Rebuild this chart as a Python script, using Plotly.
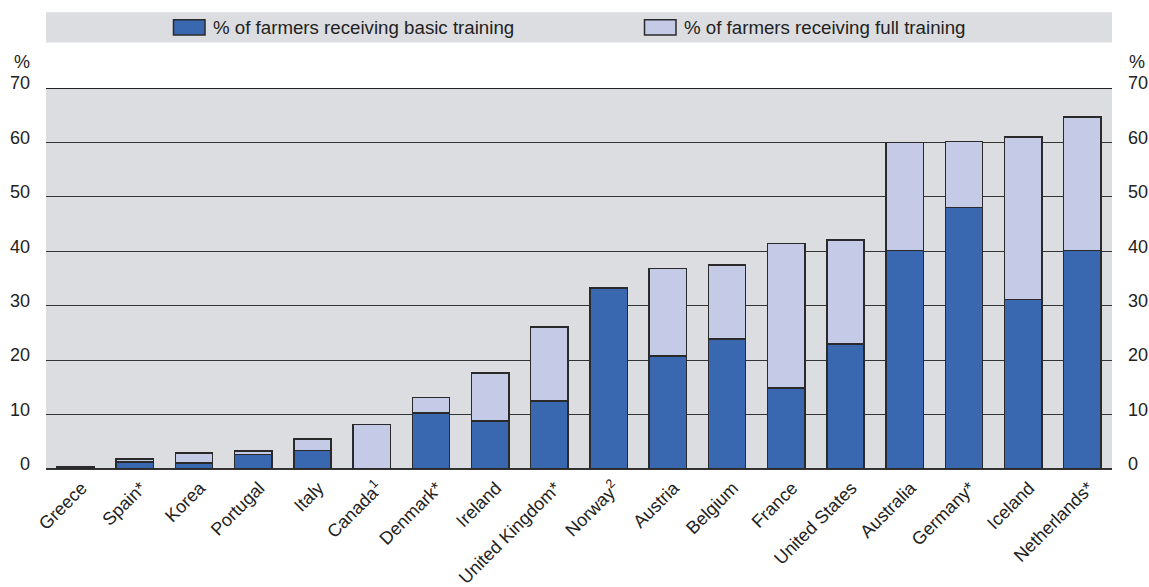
import plotly.graph_objects as go

countries = ["Greece", "Spain*", "Korea", "Portugal", "Italy", "Canada<sup>1</sup>", "Denmark*",
             "Ireland", "United Kingdom*", "Norway<sup>2</sup>", "Austria", "Belgium", "France",
             "United States", "Australia", "Germany*", "Iceland", "Netherlands*"]
basic = [0.4, 1.3, 1.1, 2.7, 3.4, 0.0, 10.3, 8.8, 12.5, 33.3, 20.8, 23.9, 14.9, 23.0, 40.1, 48.0, 31.1, 40.1]
full_total = [0.4, 1.8, 2.9, 3.35, 5.5, 8.2, 13.1, 17.6, 26.1, 33.3, 36.8, 37.5, 41.4, 42.1, 60.0, 60.2, 61.0, 64.7]
full = [round(t - b, 2) for t, b in zip(full_total, basic)]
yticks = [0, 10, 20, 30, 40, 50, 60, 70]
series_names = ["% of farmers receiving basic training", "% of farmers receiving full training"]

BLUE = "#3a68b0"
LIGHT = "#c5cae6"
GRAY = "#dcdde0"
EDGE = "#2a2a2a"
FONT = "Liberation Sans, Arial, sans-serif"

# body margin is removed in post_script, so the figure sits at (0, 0)
W, H = 1149, 587
PLOT_L, PLOT_R, PLOT_T, PLOT_B = 46, 1112, 88, 469   # target plot box in page pixels
ML, MR, MT, MB = PLOT_L, W - PLOT_R, PLOT_T, H - PLOT_B
PW, PH = PLOT_R - PLOT_L, PLOT_B - PLOT_T


def px_x(p):
    return (p - PLOT_L) / PW


def px_y(p):
    return (PLOT_B - p) / PH


fig = go.Figure()
fig.add_trace(go.Bar(x=countries, y=basic, name=series_names[0],
                     marker=dict(color=BLUE, line=dict(color=EDGE, width=1.5))))
fig.add_trace(go.Bar(x=countries, y=full, name=series_names[1],
                     marker=dict(color=LIGHT, line=dict(color=EDGE, width=1.5))))
fig.add_trace(go.Scatter(x=[countries[0]], y=[0], yaxis="y2", mode="markers",
                         marker=dict(opacity=0), showlegend=False, hoverinfo="skip"))

shapes = [
    dict(type="rect", xref="paper", yref="paper", x0=0, x1=1, y0=px_y(42.5), y1=px_y(12.3),
         fillcolor=GRAY, line=dict(width=0), layer="below"),
    dict(type="line", xref="paper", yref="y", x0=0, x1=1, y0=70, y1=70,
         line=dict(color="#222", width=2)),
]
annotations = [
    dict(text="%", xref="paper", yref="paper", x=px_x(11.5), y=px_y(61.5), showarrow=False,
         font=dict(size=18), xanchor="left", yanchor="middle"),
    dict(text="%", xref="paper", yref="paper", x=px_x(1127), y=px_y(61.5), showarrow=False,
         font=dict(size=18), xanchor="left", yanchor="middle"),
]
legend_pos = [(173.5, 205, 210.5), (644.5, 676, 681.5)]
for (sx0, sx1, tx), col, name in zip(legend_pos, [BLUE, LIGHT], series_names):
    shapes.append(dict(type="rect", xref="paper", yref="paper", x0=px_x(sx0), x1=px_x(sx1),
                       y0=px_y(35), y1=px_y(19.7), fillcolor=col,
                       line=dict(color=EDGE, width=1.5)))
    annotations.append(dict(text=name, xref="paper", yref="paper", x=px_x(tx), y=px_y(27.5),
                            showarrow=False, xanchor="left", yanchor="middle",
                            font=dict(size=18.7, color="#222")))

fig.update_layout(
    barmode="stack",
    bargap=0.37,
    width=W, height=H,
    margin=dict(l=ML, r=MR, t=MT, b=MB, autoexpand=False),
    paper_bgcolor="white",
    plot_bgcolor=GRAY,
    showlegend=False,
    font=dict(family=FONT, size=18, color="#222"),
    xaxis=dict(tickangle=-45, showgrid=False, ticks="", tickfont=dict(size=18),
               range=[-0.5, 17.5], showline=False, automargin=False,
               ticklabelstandoff=4, ticklabelshift=6),
    yaxis=dict(range=[0, 70], tickvals=yticks, showgrid=True, gridcolor="#333", gridwidth=1,
               zeroline=True, zerolinecolor="#333", zerolinewidth=2, ticks="",
               ticklabelstandoff=15, ticklabelshift=-5, automargin=False,
               tickfont=dict(size=18)),
    yaxis2=dict(range=[0, 70], tickvals=yticks, overlaying="y", side="right", showgrid=False,
                zeroline=False, ticks="", ticklabelstandoff=15, ticklabelshift=-5,
                automargin=False, tickfont=dict(size=18)),
    shapes=shapes,
    annotations=annotations,
)

fig.write_html("out.html",
               config={"displayModeBar": False},
               post_script="document.body.style.margin='0';document.body.style.overflow='hidden';")
